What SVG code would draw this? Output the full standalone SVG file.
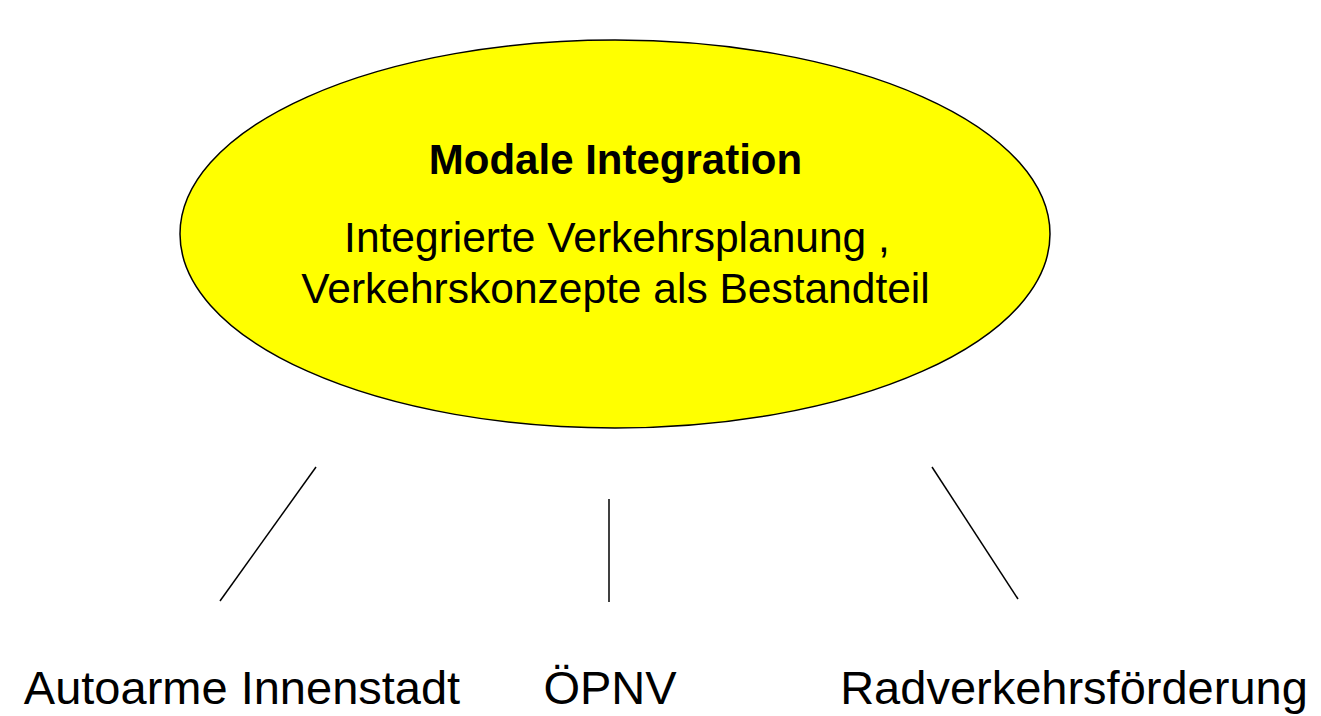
<svg xmlns="http://www.w3.org/2000/svg" width="1321" height="716" viewBox="0 0 1321 716">
<style>
text{font-family:"Liberation Sans",Arial,sans-serif;fill:#000;text-anchor:middle}
.t{font-size:42px;font-weight:bold}
.s{font-size:42.5px}
.b{font-size:47px}
.c{stroke:#000;stroke-width:1.5;fill:none}
</style>
<rect width="1321" height="716" fill="#fff"/>
<g id="center">
<ellipse cx="615" cy="234" rx="435" ry="194" fill="#ffff00" stroke="#000" stroke-width="1.5"/>
<text class="t" x="615.5" y="174">Modale Integration</text>
<text class="s" x="617" y="252">Integrierte Verkehrsplanung ,</text>
<text class="s" x="615.5" y="303">Verkehrskonzepte als Bestandteil</text>
</g>
<g id="connectors">
<line class="c" x1="316" y1="467" x2="220" y2="601"/>
<line class="c" x1="609" y1="499" x2="609" y2="602"/>
<line class="c" x1="932" y1="467" x2="1018" y2="599"/>
</g>
<g id="autoarme"><text class="b" x="242" y="704">Autoarme Innenstadt</text></g>
<g id="oepnv"><text class="b" x="610" y="704">ÖPNV</text></g>
<g id="rad"><text class="b" x="1074" y="704">Radverkehrsförderung</text></g>
</svg>
